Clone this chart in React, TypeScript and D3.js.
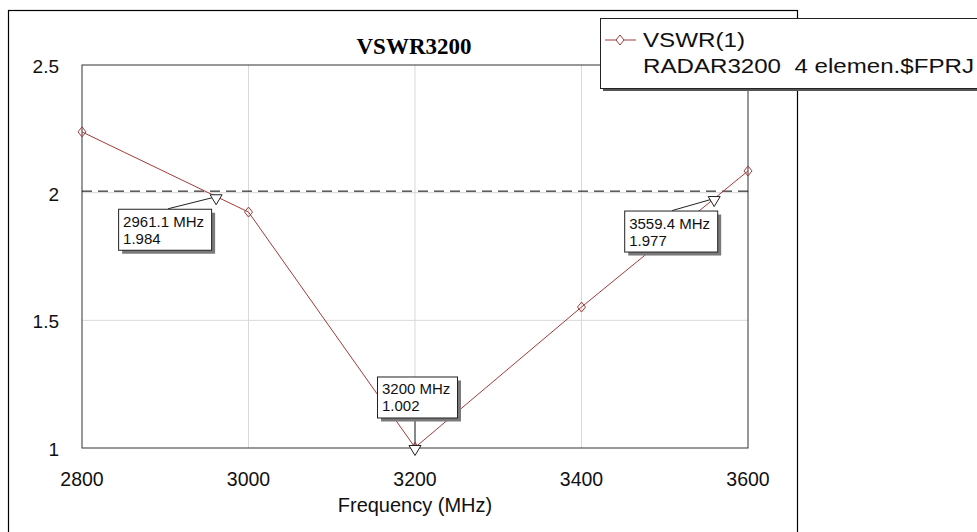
import React from "react";
import * as d3 from "d3";

const freqs = [2800, 3000, 3200, 3400, 3600];
const vswr = [2.238, 1.924, 1.002, 1.552, 2.085];
const xTicks = [2800, 3000, 3200, 3400, 3600];
const yTicks = [1, 1.5, 2, 2.5];
const yTickLabels = ["1", "1.5", "2", "2.5"];
const threshold = 2.006;
const markerFreqs = [2961.1, 3200, 3559.4];
const markerVals = [1.984, 1.002, 1.977];
const markerLabels = ["2961.1 MHz", "3200 MHz", "3559.4 MHz"];
const markerValLabels = ["1.984", "1.002", "1.977"];
const title = "VSWR3200";
const xLabel = "Frequency (MHz)";
const legendLines = ["VSWR(1)", "RADAR3200  4 elemen.$FPRJ"];

const W = 977, H = 532;
const L = 82, R = 748, T = 65, B = 448;
const lineColor = "#a33a3a";

// label box offsets relative to marker point (layout)
const boxOffsets = [
  { dx: -98, dy: 12, w: 93, h: 41, lx: 50 },
  { dx: -38, dy: -71, w: 80, h: 41, lx: 38 },
  { dx: -90, dy: 12, w: 93, h: 41, lx: 48 },
];

export default function App() {
  const x = d3.scaleLinear().domain([2800, 3600]).range([L, R]);
  const y = d3.scaleLinear().domain([1, 2.5]).range([B, T]);
  const line = d3
    .line<number>()
    .x((_, i) => x(freqs[i]))
    .y((d) => y(d));
  const font = "Arial, 'Liberation Sans', sans-serif";

  return (
    <svg
      width={W}
      height={H}
      style={{ position: "absolute", left: 0, top: 0, background: "#fff" }}
    >
      <rect x={0} y={0} width={W} height={H} fill="#fff" />
      {/* outer frame */}
      <rect x={8.5} y={10.5} width={789} height={540} fill="none" stroke="#000" strokeWidth={1.2} />
      {/* grid */}
      {xTicks.slice(1, -1).map((t) => (
        <line key={"gx" + t} x1={x(t)} x2={x(t)} y1={T} y2={B} stroke="#d9d9d9" strokeWidth={1} />
      ))}
      {yTicks.slice(1, -1).map((t) => (
        <line key={"gy" + t} x1={L} x2={R} y1={y(t)} y2={y(t)} stroke="#d9d9d9" strokeWidth={1} />
      ))}
      {/* plot border */}
      <rect x={L} y={T} width={R - L} height={B - T} fill="none" stroke="#333" strokeWidth={1} />
      {/* title */}
      <text x={414} y={54} textAnchor="middle" fontFamily="'Liberation Serif', 'Times New Roman', serif" fontWeight="bold" fontSize={23}>
        {title}
      </text>
      {/* y tick labels */}
      {yTicks.map((t, i) => (
        <text key={"yt" + t} x={59} y={y(t) + 8} textAnchor="end" fontFamily={font} fontSize={19} fill="#111">
          {yTickLabels[i]}
        </text>
      ))}
      {/* x tick labels */}
      {xTicks.map((t) => (
        <text key={"xt" + t} x={x(t)} y={486} textAnchor="middle" fontFamily={font} fontSize={19.5} fill="#111">
          {t}
        </text>
      ))}
      <text x={(L + R) / 2} y={512} textAnchor="middle" fontFamily={font} fontSize={20} fill="#111">
        {xLabel}
      </text>
      {/* threshold dashed line */}
      <line x1={L} x2={R} y1={y(threshold)} y2={y(threshold)} stroke="#000" strokeWidth={1} strokeDasharray="10,6" />
      {/* data line */}
      <path d={line(vswr) || ""} fill="none" stroke={lineColor} strokeWidth={1} />
      {vswr.map((v, i) => (
        <path
          key={"dm" + i}
          d={`M${x(freqs[i])},${y(v) - 5}L${x(freqs[i]) + 4},${y(v)}L${x(freqs[i])},${y(v) + 5}L${x(freqs[i]) - 4},${y(v)}Z`}
          fill="none"
          stroke={lineColor}
          strokeWidth={1}
        />
      ))}
      {/* markers */}
      {markerFreqs.map((f, i) => {
        const px = x(f);
        const py = y(markerVals[i]);
        const o = boxOffsets[i];
        const bx = px + o.dx;
        const by = py + o.dy;
        const anchorY = o.dy > 0 ? by : by + o.h;
        return (
          <g key={"mk" + i}>
            <line x1={bx + o.lx} y1={anchorY} x2={px} y2={py} stroke="#222" strokeWidth={1} />
            <rect x={bx + 4} y={by + 4} width={o.w} height={o.h} fill="#7a7a7a" />
            <rect x={bx + 0.5} y={by + 0.5} width={o.w} height={o.h} fill="#fff" stroke="#222" strokeWidth={1} />
            <text x={bx + 5} y={by + 18} fontFamily={font} fontSize={15} fill="#111">
              {markerLabels[i]}
            </text>
            <text x={bx + 5} y={by + 35} fontFamily={font} fontSize={15} fill="#111">
              {markerValLabels[i]}
            </text>
            <path
              d={`M${px - 6},${py - 2}L${px + 6},${py - 2}L${px},${py + 8}Z`}
              fill="#fff"
              stroke="#222"
              strokeWidth={1}
            />
          </g>
        );
      })}
      {/* legend */}
      <rect x={603} y={21} width={400} height={70} fill="#555" />
      <rect x={600.5} y={18.5} width={400} height={70} fill="#fff" stroke="#222" strokeWidth={1} />
      <line x1={605} x2={636} y1={40} y2={40} stroke={lineColor} strokeWidth={1} />
      <path d={`M620,35L624,40L620,45L616,40Z`} fill="#fff" stroke={lineColor} strokeWidth={1} />
      <text x={643} y={47} fontFamily={font} fontSize={20.5} fill="#111" textLength={102} lengthAdjust="spacingAndGlyphs">
        {legendLines[0]}
      </text>
      <text x={643} y={73} fontFamily={font} fontSize={20.5} fill="#111" style={{ whiteSpace: "pre" }} textLength={331} lengthAdjust="spacingAndGlyphs">
        {legendLines[1]}
      </text>
    </svg>
  );
}
